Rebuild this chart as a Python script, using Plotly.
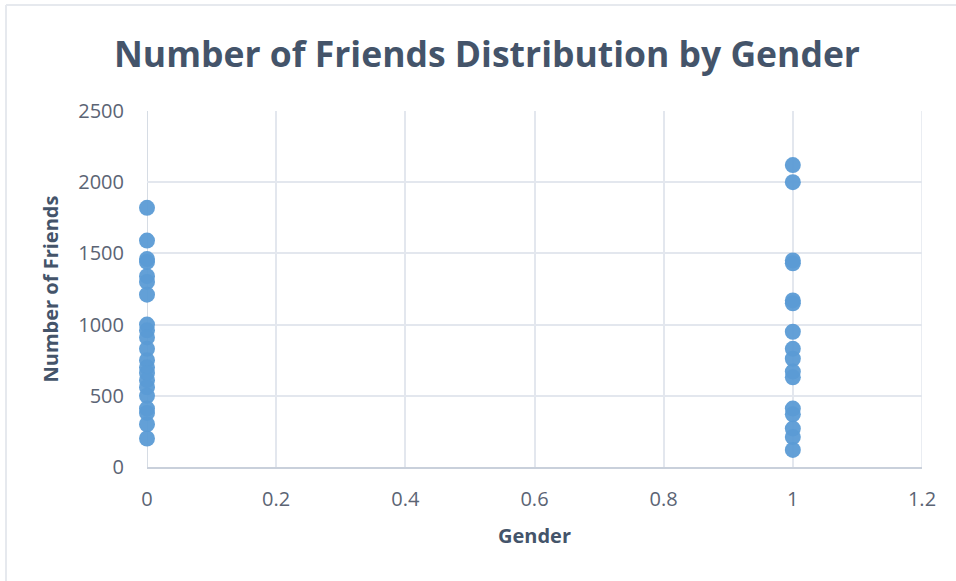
import plotly.graph_objects as go

# Number of friends per person, split by gender code (0 / 1)
gender0_friends = [1820, 1590, 1460, 1440, 1340, 1300, 1210, 1000, 960, 910,
                   830, 750, 700, 660, 610, 560, 500, 410, 380, 300, 200]
gender1_friends = [2120, 2000, 1450, 1430, 1170, 1150, 950, 830, 760, 670,
                   630, 410, 370, 270, 210, 120]

x_vals = [0] * len(gender0_friends) + [1] * len(gender1_friends)
y_vals = gender0_friends + gender1_friends

x_ticks = [0, 0.2, 0.4, 0.6, 0.8, 1, 1.2]
x_tick_text = ["0", "0.2", "0.4", "0.6", "0.8", "1", "1.2"]
y_ticks = [0, 500, 1000, 1500, 2000, 2500]

title_color = "#44546a"
tick_color = "#5b6474"
grid_color = "#e3e7ee"

fig = go.Figure(
    go.Scatter(
        x=x_vals,
        y=y_vals,
        mode="markers",
        cliponaxis=False,
        marker=dict(size=16, color="#5b9bd5", opacity=0.95, line=dict(width=0)),
        showlegend=False,
    )
)

fig.update_layout(
    width=956,
    height=581,
    margin=dict(l=147, r=34, t=111, b=114),
    paper_bgcolor="white",
    plot_bgcolor="white",
    font=dict(family="Open Sans", color=tick_color),
    title=dict(
        text="<b>Number of Friends Distribution by Gender</b>",
        x=487 / 956,
        xref="container",
        xanchor="center",
        y=0.906,
        yanchor="middle",
        font=dict(family="Open Sans", size=35.5, color=title_color),
    ),
    xaxis=dict(
        range=[0, 1.2],
        tickvals=x_ticks,
        ticktext=x_tick_text,
        showgrid=True,
        gridcolor=grid_color,
        gridwidth=1.5,
        zeroline=False,
        showline=True,
        linecolor="#c9d0db",
        linewidth=1.5,
        mirror=False,
        ticks="",
        tickfont=dict(size=20, color=tick_color),
        ticklabelstandoff=13,
        title=dict(
            text="<b>Gender</b>",
            font=dict(size=20, color=title_color),
            standoff=18,
        ),
    ),
    yaxis=dict(
        range=[0, 2500],
        tickvals=y_ticks,
        showgrid=True,
        gridcolor=grid_color,
        gridwidth=1.5,
        zeroline=False,
        showline=False,
        ticks="",
        tickfont=dict(size=20, color=tick_color),
        ticklabelstandoff=22,
        title=dict(
            text="<b>Number of Friends</b>",
            font=dict(size=20, color=title_color),
            standoff=14,
        ),
    ),
    shapes=[
        # vertical axis line at x = 0
        dict(type="line", xref="x", yref="paper", x0=0, x1=0, y0=0, y1=1,
             line=dict(color="#c9d0db", width=1.5), layer="below"),
        # right gridline at the top of the x range
        dict(type="line", xref="x", yref="paper", x0=1.2, x1=1.2, y0=0, y1=1,
             line=dict(color=grid_color, width=1.5), layer="below"),
        # outer chart frame (left and top edges)
        dict(type="line", xref="paper", yref="paper",
             x0=(6 - 147) / 775, x1=(6 - 147) / 775,
             y0=(467 - 5) / 356, y1=(467 - 590) / 356,
             line=dict(color="#e6e9ee", width=2)),
        dict(type="line", xref="paper", yref="paper",
             x0=(6 - 147) / 775, x1=(960 - 147) / 775,
             y0=(467 - 5) / 356, y1=(467 - 5) / 356,
             line=dict(color="#e6e9ee", width=2)),
    ],
)

fig.write_html("out.html")
